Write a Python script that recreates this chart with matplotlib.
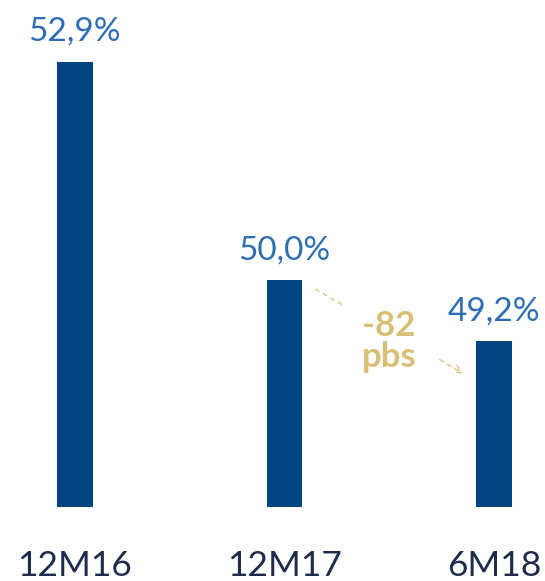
import numpy as np
import matplotlib
matplotlib.use("Agg")
import matplotlib.pyplot as plt

periods = ["12M16", "12M17", "6M18"]
ratio = [52.9, 50.0, 49.2]
value_labels = ["52,9%", "50,0%", "49,2%"]
change_label = "-82\npbs"

BAR = "#004481"
VALUE = "#2d6db5"
TICK = "#1d2c4c"
GOLD = "#d9bf75"

plt.rcParams["font.family"] = ["Lato", "DejaVu Sans"]

fig = plt.figure(figsize=(5.45, 5.81), dpi=100)
ax = fig.add_axes([0, 0.1274, 1, 0.8577])

x = np.arange(len(periods))
ax.bar(x, ratio, width=0.17, color=BAR, bottom=0)
ax.set_ylim(47.0, 53.6)
ax.set_xlim(-0.357, 2.244)

for xi, v, lab in zip(x, ratio, value_labels):
    ax.annotate(lab, (xi, v), xytext=(0, 15), textcoords="offset points",
                ha="center", va="baseline", fontsize=24, color=VALUE)

# change annotation between last two bars
ax.plot([1.147, 1.28], [49.887, 49.675], ls=(0, (4, 3)), lw=0.9, color=GOLD)
ax.annotate("", xy=(1.863, 48.748), xytext=(1.729, 48.973),
            arrowprops=dict(arrowstyle="->", color=GOLD, lw=0.9,
                            linestyle=(0, (4, 3)), mutation_scale=14))
ax.text(1.5, 49.19, change_label, ha="center", va="center", fontsize=25,
        fontweight="bold", color=GOLD, linespacing=0.95)

ax.set_xticks(x, periods)
ax.tick_params(axis="x", length=0, pad=31, labelsize=25.5, labelcolor=TICK)
ax.set_yticks([])
for s in ax.spines.values():
    s.set_visible(False)

fig.savefig("out.png", dpi=100)
